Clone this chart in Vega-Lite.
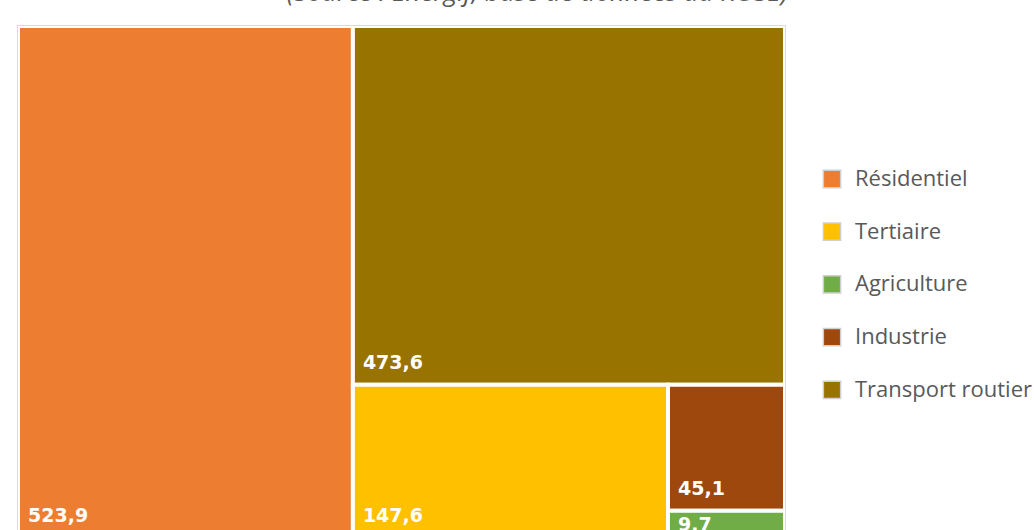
{
  "$schema": "https://vega.github.io/schema/vega-lite/v6.json",
  "autosize": {"type": "none"},
  "width": 767,
  "height": 504,
  "padding": {"left": 18, "top": 26, "right": 249, "bottom": 0},
  "background": "white",
  "title": {
    "text": "(Source : Energif, base de données du ROSE)",
    "orient": "top",
    "anchor": "middle",
    "frame": "group",
    "dx": 136,
    "offset": -6,
    "baseline": "bottom",
    "font": "Open Sans",
    "fontSize": 26,
    "fontStyle": "italic",
    "fontWeight": "normal",
    "color": "#595959"
  },
  "config": {
    "locale": {"number": {"decimal": ",", "thousands": " ", "grouping": [3], "currency": ["", " €"]}},
    "view": {"stroke": "#d9d9d9", "strokeWidth": 2}
  },
  "data": {
    "values": [
      {"secteur": "Résidentiel", "valeur": 523.9},
      {"secteur": "Transport routier", "valeur": 473.6},
      {"secteur": "Tertiaire", "valeur": 147.6},
      {"secteur": "Industrie", "valeur": 45.1},
      {"secteur": "Agriculture", "valeur": 9.7}
    ]
  },
  "transform": [
    {"pivot": "secteur", "value": "valeur"},
    {"fold": ["Résidentiel", "Transport routier", "Tertiaire", "Industrie", "Agriculture"], "as": ["secteur", "valeur"]},
    {"calculate": "datum['Résidentiel'] / (datum['Résidentiel'] + datum['Transport routier'] + datum['Tertiaire'] + datum['Industrie'] + datum['Agriculture'])", "as": "a"},
    {"calculate": "datum['Transport routier'] / (datum['Transport routier'] + datum['Tertiaire'] + datum['Industrie'] + datum['Agriculture'])", "as": "t"},
    {"calculate": "datum.a + (1 - datum.a) * datum['Tertiaire'] / (datum['Tertiaire'] + datum['Industrie'] + datum['Agriculture'])", "as": "xb"},
    {"calculate": "datum.t + (1 - datum.t) * datum['Industrie'] / (datum['Industrie'] + datum['Agriculture'])", "as": "yc"},
    {"calculate": "datum.secteur == 'Résidentiel' ? 0 : (datum.secteur == 'Transport routier' || datum.secteur == 'Tertiaire') ? datum.a : datum.xb", "as": "x0"},
    {"calculate": "datum.secteur == 'Résidentiel' ? datum.a : datum.secteur == 'Tertiaire' ? datum.xb : 1", "as": "x1"},
    {"calculate": "(datum.secteur == 'Résidentiel' || datum.secteur == 'Transport routier') ? 0 : datum.secteur == 'Agriculture' ? datum.yc : datum.t", "as": "y0"},
    {"calculate": "datum.secteur == 'Transport routier' ? datum.t : datum.secteur == 'Industrie' ? datum.yc : 1", "as": "y1"}
  ],
  "layer": [
    {
      "mark": {"type": "rect", "stroke": "white", "strokeWidth": 4, "clip": true},
      "encoding": {
        "x": {"field": "x0", "type": "quantitative", "scale": {"domain": [0, 1], "nice": false, "zero": false}, "axis": null},
        "x2": {"field": "x1"},
        "y": {"field": "y0", "type": "quantitative", "scale": {"domain": [0, 0.984375], "nice": false, "zero": false, "reverse": true}, "axis": null},
        "y2": {"field": "y1"},
        "color": {
          "field": "secteur",
          "type": "nominal",
          "scale": {
            "domain": ["Résidentiel", "Tertiaire", "Agriculture", "Industrie", "Transport routier"],
            "range": ["#ED7D31", "#FFC000", "#70AD47", "#9E480E", "#997300"]
          },
          "legend": {
            "title": null,
            "orient": "none",
            "legendX": 803,
            "legendY": 142,
            "padding": 0,
            "symbolType": "square",
            "symbolSize": 300,
            "symbolStrokeColor": "#d0d0d0",
            "symbolStrokeWidth": 1.5,
            "labelFont": "Open Sans",
            "labelFontSize": 22,
            "labelColor": "#595959",
            "labelOffset": 12,
            "rowPadding": 28.7,
            "labelLimit": 400
          }
        }
      }
    },
    {
      "transform": [{"filter": "datum.secteur != 'Agriculture'"}],
      "mark": {"type": "text", "align": "left", "baseline": "alphabetic", "dx": 10, "dy": -16, "font": "DejaVu Sans", "fontWeight": "bold", "fontSize": 19, "color": "white", "clip": true},
      "encoding": {
        "x": {"field": "x0", "type": "quantitative"},
        "y": {"field": "y1", "type": "quantitative"},
        "text": {"field": "valeur", "type": "quantitative", "format": ".1f"}
      }
    },
    {
      "transform": [{"filter": "datum.secteur == 'Agriculture'"}],
      "mark": {"type": "text", "align": "left", "baseline": "top", "dx": 10, "dy": 5, "font": "DejaVu Sans", "fontWeight": "bold", "fontSize": 19, "color": "white", "clip": true},
      "encoding": {
        "x": {"field": "x0", "type": "quantitative"},
        "y": {"field": "y0", "type": "quantitative"},
        "text": {"field": "valeur", "type": "quantitative", "format": ".1f"}
      }
    }
  ]
}
